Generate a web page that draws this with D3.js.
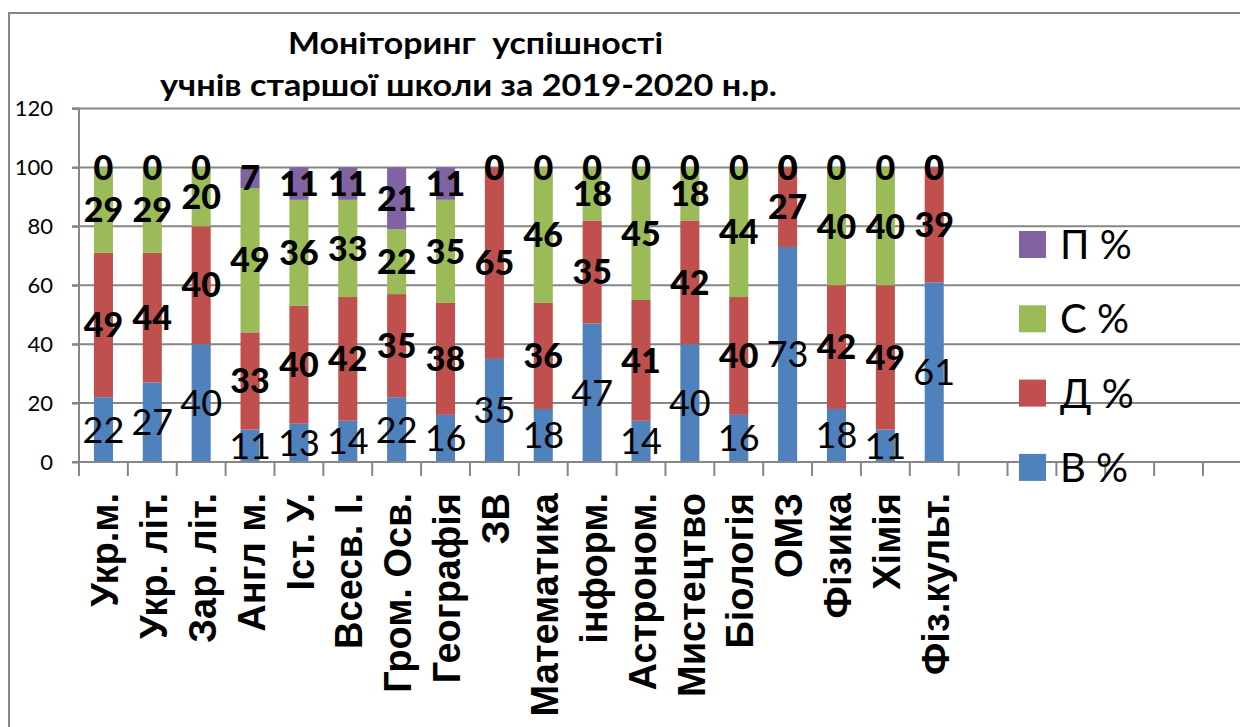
<!DOCTYPE html>
<html>
<head>
<meta charset="utf-8">
<script src="https://cdn.jsdelivr.net/npm/d3@7"></script>
<style>
  html, body { margin: 0; padding: 0; background: #fff; overflow: hidden; }
  svg { display: block; }
</style>
</head>
<body>
<svg id="chart" width="1240" height="727"></svg>
<script>
// ---------------- data ----------------
const categories = ["Укр.м.", "Укр. літ.", "Зар. літ.", "Англ м.", "Іст. У.", "Всесв. І.", "Гром. Осв.", "Географія", "ЗВ", "Математика", "інформ.", "Астроном.", "Мистецтво", "Біологія", "ОМЗ", "Фізика", "Хімія", "Фіз.культ."];
const seriesNames = ["В %", "Д %", "С %", "П %"];
const valuesV = [22, 27, 40, 11, 13, 14, 22, 16, 35, 18, 47, 14, 40, 16, 73, 18, 11, 61];
const valuesD = [49, 44, 40, 33, 40, 42, 35, 38, 65, 36, 35, 41, 42, 40, 27, 42, 49, 39];
const valuesS = [29, 29, 20, 49, 36, 33, 22, 35, 0, 46, 18, 45, 18, 44, 0, 40, 40, 0];
const valuesP = [0, 0, 0, 7, 11, 11, 21, 11, 0, 0, 0, 0, 0, 0, 0, 0, 0, 0];
const yTicks = [0, 20, 40, 60, 80, 100, 120];
const emptySlots = 6;   // empty category slots to the right of the last bar
const titleLines = ["Моніторинг  успішності", "учнів старшої школи за 2019-2020 н.р."];

const colors = { "В %": "#4F81BD", "Д %": "#C0504D", "С %": "#9BBB59", "П %": "#8064A2" };

(function () {
// -------------- build rows --------------
const seriesValues = { "В %": valuesV, "Д %": valuesD, "С %": valuesS, "П %": valuesP };
const rows = categories.map((c, i) => {
  const r = { cat: c, idx: i };
  seriesNames.forEach(s => r[s] = seriesValues[s][i]);
  return r;
});
const stacked = d3.stack().keys(seriesNames)(rows);

// -------------- layout --------------
const svg = d3.select("#chart");
const pLeft = 79, pTop = 108.5, pBottom = 462;
const nSlots = categories.length + emptySlots;
const plotRight = pLeft + nSlots * 48.87;

const x = d3.scaleBand().domain(d3.range(nSlots)).range([pLeft, plotRight])
  .paddingInner(0.61).paddingOuter(0.305);
const y = d3.scaleLinear().domain([0, 120]).range([pBottom, pTop]);
const gridColor = "#868686";
const calib = "Lato, 'Open Sans', sans-serif";
const arialB = "'Liberation Sans', Arial, sans-serif";

// outer chart border
svg.append("rect").attr("x", 9).attr("y", 13).attr("width", 1300).attr("height", 800)
  .attr("fill", "none").attr("stroke", gridColor).attr("stroke-width", 2);

// horizontal gridlines
svg.append("g").selectAll("line").data(yTicks.filter(t => t > 0)).join("line")
  .attr("x1", pLeft - 7).attr("x2", plotRight)
  .attr("y1", d => y(d)).attr("y2", d => y(d))
  .attr("stroke", gridColor).attr("stroke-width", 2);

// bars
const gBars = svg.append("g");
stacked.forEach(s => {
  gBars.append("g").attr("fill", colors[s.key]).selectAll("rect").data(s).join("rect")
    .attr("x", d => x(d.data.idx))
    .attr("width", x.bandwidth())
    .attr("y", d => y(d[1]))
    .attr("height", d => y(d[0]) - y(d[1]));
});

// y axis
const yAxis = d3.axisLeft(y).tickValues(yTicks).tickSize(7).tickPadding(19);
const gy = svg.append("g").attr("transform", `translate(${pLeft},0)`).call(yAxis);
gy.select(".domain").attr("stroke", gridColor).attr("stroke-width", 2).attr("d", `M-7,${y(120)}H0V${pBottom}`);
gy.selectAll(".tick line").attr("stroke", gridColor).attr("stroke-width", 2);
gy.selectAll(".tick text").attr("font-family", calib).attr("font-size", 22).attr("fill", "#000");

// x axis line and category ticks
const step = x.step();
const boundaries = d3.range(nSlots + 1).map(i => pLeft + i * step);
svg.append("line").attr("x1", pLeft - 7).attr("x2", plotRight).attr("y1", pBottom).attr("y2", pBottom)
  .attr("stroke", gridColor).attr("stroke-width", 2);
svg.append("g").selectAll("line").data(boundaries).join("line")
  .attr("x1", d => d).attr("x2", d => d).attr("y1", pBottom).attr("y2", pBottom + 14)
  .attr("stroke", gridColor).attr("stroke-width", 2);

// x labels (rotated)
svg.append("g").selectAll("text").data(rows).join("text")
  .attr("transform", d => `translate(${x(d.idx) + x.bandwidth() / 2 + 1},493) rotate(-90)`)
  .attr("text-anchor", "end").attr("dy", "0.36em")
  .attr("font-family", arialB).attr("font-weight", "bold").attr("font-size", 38)
  .attr("fill", "#000").text(d => d.cat);

// data labels
const gLab = svg.append("g");
stacked.forEach(s => {
  const isV = s.key === "В %";
  gLab.append("g").selectAll("text").data(s).join("text")
    .attr("x", d => x(d.data.idx) + x.bandwidth() / 2)
    .attr("y", d => (y(d[0]) + y(d[1])) / 2)
    .attr("dy", "0.36em")
    .attr("text-anchor", "middle")
    .attr("font-family", calib)
    .attr("font-weight", isV ? "normal" : "900")
    .attr("font-size", isV ? 36 : 34)
    .attr("fill", "#000")
    .text(d => d.data[s.key]);
});

// legend
const legendOrder = seriesNames.slice().reverse();
const lg = svg.append("g").selectAll("g").data(legendOrder).join("g")
  .attr("transform", (d, i) => `translate(1019,${231 + i * 74.3})`);
lg.append("rect").attr("width", 27).attr("height", 27).attr("fill", d => colors[d]);
lg.append("text").attr("x", 41).attr("y", 13.5).attr("dy", "0.36em")
  .attr("font-family", calib).attr("font-size", 40).attr("fill", "#000").text(d => d);

// title
const titleCenters = [475.5, 468.5];
const titleWidths = [375, 617];
const titleBase = [54, 96];
svg.append("g").selectAll("text").data(titleLines).join("text")
  .attr("x", (d, i) => titleCenters[i]).attr("y", (d, i) => titleBase[i])
  .attr("text-anchor", "middle")
  .attr("font-family", calib).attr("font-weight", "bold").attr("font-size", 31)
  .attr("textLength", (d, i) => titleWidths[i]).attr("lengthAdjust", "spacingAndGlyphs")
  .attr("fill", "#000").style("white-space", "pre").text(d => d);
})();
</script>
</body>
</html>
